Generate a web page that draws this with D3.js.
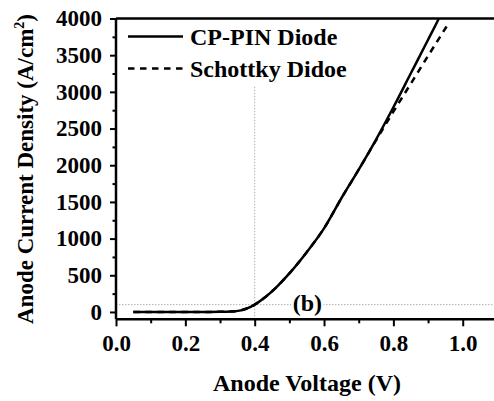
<!DOCTYPE html>
<html>
<head>
<meta charset="utf-8">
<script src="https://cdn.jsdelivr.net/npm/d3@7"></script>
</head>
<body style="margin:0; background:#fff">
<div id="SVG_CONTAINER"></div>
<script>
// data
const pinVoltage = [0.05, 0.25, 0.30, 0.33, 0.36, 0.38, 0.40, 0.43, 0.46, 0.50, 0.55, 0.60, 0.65, 0.70, 0.75, 0.80, 0.85, 0.90, 0.93, 0.935];
const pinCurrent = [0, 0, 2, 6, 22, 52, 100, 200, 325, 525, 815, 1140, 1550, 1940, 2350, 2790, 3250, 3710, 3990, 4040];
const schottkyVoltage = [0.05, 0.25, 0.30, 0.33, 0.36, 0.38, 0.40, 0.43, 0.46, 0.50, 0.55, 0.60, 0.65, 0.70, 0.75, 0.80, 0.85, 0.90, 0.96];
const schottkyCurrent = [0, 0, 2, 6, 22, 52, 100, 200, 325, 525, 815, 1140, 1550, 1940, 2340, 2730, 3110, 3490, 3940];
const xTicks = [0.0, 0.2, 0.4, 0.6, 0.8, 1.0];
const yTicks = [0, 500, 1000, 1500, 2000, 2500, 3000, 3500, 4000];
const seriesNames = ["CP-PIN Diode", "Schottky Didoe"];
const markerV = 0.4, markerI = 100;

const FONT = "'Liberation Serif', 'Times New Roman', serif";

const W = 494, H = 401;
const margin = {left: 116, top: 18.5};
const plotW = 381.4, plotH = 300.8;

const svg = d3.select("#SVG_CONTAINER").append("svg")
    .attr("width", W).attr("height", H);

const g = svg.append("g")
    .attr("transform", "translate(" + margin.left + "," + margin.top + ")");

const x = d3.scaleLinear().domain([0, 1.1]).range([0, plotW]);
const y = d3.scaleLinear().domain([-100, 4000]).range([plotH, 0]);

svg.append("defs").append("clipPath").attr("id", "clip")
    .append("rect").attr("width", plotW).attr("height", plotH);

function styleText(sel, size) {
    sel.style("font-family", FONT).style("font-weight", "bold")
        .style("font-size", size + "px").style("fill", "#000");
    return sel;
}

// guide lines (dotted)
g.append("line")
    .attr("x1", x(0)).attr("x2", x(1.1))
    .attr("y1", y(markerI)).attr("y2", y(markerI))
    .attr("stroke", "#b0b0b0").attr("stroke-width", 1).attr("stroke-dasharray", "1.5,1.5");
g.append("line")
    .attr("x1", x(markerV)).attr("x2", x(markerV))
    .attr("y1", y(-100)).attr("y2", y(3080))
    .attr("stroke", "#b0b0b0").attr("stroke-width", 1).attr("stroke-dasharray", "1.5,1.5");

// (b) label with white box
const bx = x(0.552), by = y(markerI) + 6;
g.append("rect").attr("x", bx - 16).attr("y", by - 18).attr("width", 32).attr("height", 24).attr("fill", "#fff");
styleText(g.append("text").attr("x", bx).attr("y", by)
    .attr("text-anchor", "middle").text("(b)"), 24);

// curves
const line = d3.line().x(d => x(d[0])).y(d => y(d[1])).curve(d3.curveMonotoneX);
const pinData = pinVoltage.map((v, i) => [v, pinCurrent[i]]);
const schData = schottkyVoltage.map((v, i) => [v, schottkyCurrent[i]]);

const curves = g.append("g").attr("clip-path", "url(#clip)");
curves.append("path").datum(schData)
    .attr("fill", "none").attr("stroke", "#000").attr("stroke-width", 2.5)
    .attr("stroke-dasharray", "6.5,5.5").attr("d", line);
curves.append("path").datum(pinData)
    .attr("fill", "none").attr("stroke", "#000").attr("stroke-width", 2.5)
    .attr("d", line);

// axes
const xAxis = g.append("g").attr("transform", "translate(0," + plotH + ")")
    .call(d3.axisBottom(x).tickValues(xTicks).tickFormat(d3.format(".1f")).tickSize(7).tickPadding(8));
const xMinor = g.append("g").attr("transform", "translate(0," + plotH + ")")
    .call(d3.axisBottom(x).tickValues([0.1, 0.3, 0.5, 0.7, 0.9]).tickFormat("").tickSize(4));
const yAxis = g.append("g")
    .call(d3.axisLeft(y).tickValues(yTicks).tickFormat(d3.format("d")).tickSize(6).tickPadding(8));
const yMinor = g.append("g")
    .call(d3.axisLeft(y).tickValues([250, 750, 1250, 1750, 2250, 2750, 3250, 3750]).tickFormat("").tickSize(3.5));

[xAxis, xMinor, yAxis, yMinor].forEach(a => {
    a.select(".domain").attr("stroke-width", 2.5);
    a.selectAll(".tick line").attr("stroke-width", 2);
    styleText(a.selectAll(".tick text"), 23);
});
xAxis.select(".domain").attr("d", "M0,0H" + plotW);
xMinor.select(".domain").remove();
yAxis.select(".domain").attr("d", "M0," + plotH + "V0");
yMinor.select(".domain").remove();

// top frame line
g.append("line").attr("x1", 0).attr("x2", plotW).attr("y1", 0).attr("y2", 0)
    .attr("stroke", "#000").attr("stroke-width", 2.5);

// axis titles
styleText(svg.append("text")
    .attr("x", 307).attr("y", 391)
    .attr("text-anchor", "middle")
    .text("Anode Voltage (V)"), 24);

const yt = styleText(svg.append("text")
    .attr("transform", "translate(33,169) rotate(-90)")
    .attr("text-anchor", "middle"), 23);
yt.append("tspan").text("Anode Current Density (A/cm");
yt.append("tspan").attr("dy", -9).style("font-size", "14px").text("2");
yt.append("tspan").attr("dy", 9).text(")");

// legend
const legend = g.append("g").attr("transform", "translate(12,18)");
seriesNames.forEach((name, i) => {
    legend.append("line")
        .attr("x1", 0).attr("x2", 55).attr("y1", i * 32).attr("y2", i * 32)
        .attr("stroke", "#000").attr("stroke-width", 2.5)
        .attr("stroke-dasharray", i === 1 ? "6.5,5.5" : null);
    styleText(legend.append("text")
        .attr("x", 62).attr("y", i * 32 + 8)
        .text(name), 24);
});
</script>
</body>
</html>
